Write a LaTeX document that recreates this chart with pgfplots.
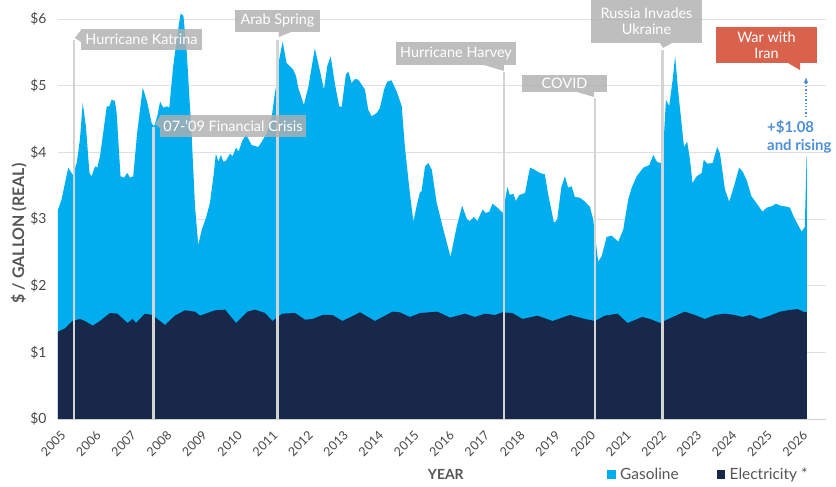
\documentclass[border=0pt]{standalone}
\usepackage{fontspec}
\setmainfont{Lato}
\usepackage{pgfplots}
\pgfplotsset{compat=1.18}
\usepackage{pgfplotstable}
\usetikzlibrary{arrows.meta}
\definecolor{gas}{RGB}{0,174,239}
\definecolor{elec}{RGB}{23,40,75}
\definecolor{evt}{RGB}{212,212,212}
\definecolor{boxg}{RGB}{176,176,176}
\definecolor{iran}{RGB}{217,98,76}
\definecolor{arrowblue}{RGB}{77,143,214}
\definecolor{tickc}{RGB}{72,72,72}
\definecolor{labc}{RGB}{85,85,85}

\pgfplotstableread{
x y
2005.00 3.14
2005.10 3.29
2005.29 3.77
2005.42 3.66
2005.53 3.84
2005.62 4.19
2005.70 4.74
2005.79 4.39
2005.89 3.69
2005.95 3.64
2006.05 3.79
2006.11 3.77
2006.19 3.94
2006.38 4.69
2006.45 4.69
2006.52 4.79
2006.61 4.77
2006.66 4.59
2006.77 3.64
2006.87 3.62
2006.96 3.69
2007.04 3.62
2007.13 3.64
2007.24 4.29
2007.40 4.97
2007.53 4.74
2007.65 4.44
2007.72 4.39
2007.81 4.54
2007.89 4.76
2007.98 4.67
2008.09 4.69
2008.15 4.67
2008.26 5.29
2008.40 5.84
2008.47 6.08
2008.55 6.05
2008.64 5.54
2008.78 4.29
2008.88 3.18
2008.97 2.61
2009.07 2.84
2009.19 3.02
2009.30 3.24
2009.40 3.64
2009.47 3.98
2009.54 3.86
2009.61 3.96
2009.68 3.86
2009.75 3.87
2009.87 3.98
2009.94 3.94
2010.04 4.07
2010.11 4.01
2010.23 4.19
2010.33 4.26
2010.48 4.11
2010.67 4.08
2010.77 4.16
2010.91 4.29
2011.05 4.53
2011.14 4.89
2011.21 5.09
2011.26 5.39
2011.36 5.66
2011.47 5.34
2011.66 5.24
2011.74 5.14
2011.80 4.97
2011.96 4.71
2012.09 4.99
2012.27 5.56
2012.42 5.21
2012.53 4.94
2012.62 5.29
2012.72 5.44
2012.84 5.02
2012.96 4.69
2013.03 4.68
2013.15 5.17
2013.22 5.21
2013.31 5.04
2013.41 5.10
2013.50 5.09
2013.69 4.94
2013.78 4.64
2013.88 4.54
2014.02 4.59
2014.11 4.66
2014.23 4.94
2014.32 5.06
2014.44 5.08
2014.59 4.91
2014.73 4.69
2014.82 4.08
2014.94 3.48
2015.06 2.96
2015.15 3.19
2015.25 3.41
2015.29 3.41
2015.39 3.79
2015.48 3.84
2015.58 3.74
2015.72 3.24
2015.91 2.84
2016.11 2.43
2016.28 2.87
2016.44 3.20
2016.58 2.99
2016.66 2.97
2016.77 3.03
2016.87 2.97
2017.02 3.14
2017.11 3.09
2017.21 3.11
2017.30 3.23
2017.46 3.16
2017.59 3.09
2017.72 3.48
2017.79 3.36
2017.89 3.38
2017.96 3.27
2018.06 3.36
2018.22 3.39
2018.36 3.77
2018.45 3.75
2018.64 3.69
2018.78 3.67
2018.87 3.39
2019.04 2.94
2019.13 2.99
2019.25 3.48
2019.35 3.64
2019.44 3.47
2019.54 3.49
2019.63 3.33
2019.77 3.32
2019.92 3.26
2020.06 3.18
2020.15 2.99
2020.29 2.36
2020.39 2.44
2020.53 2.73
2020.67 2.75
2020.86 2.66
2021.00 2.84
2021.14 3.29
2021.24 3.47
2021.38 3.64
2021.57 3.77
2021.74 3.81
2021.85 3.96
2021.95 3.86
2022.04 3.84
2022.11 3.84
2022.21 4.79
2022.30 4.69
2022.40 5.09
2022.47 5.44
2022.55 4.94
2022.65 4.44
2022.72 4.08
2022.81 4.16
2022.89 3.89
2022.96 3.54
2023.08 3.64
2023.22 3.69
2023.28 3.89
2023.38 3.83
2023.53 3.84
2023.66 4.08
2023.74 3.98
2023.88 3.44
2024.00 3.26
2024.13 3.48
2024.28 3.77
2024.38 3.71
2024.49 3.59
2024.63 3.34
2024.77 3.24
2024.94 3.11
2025.06 3.17
2025.20 3.19
2025.32 3.23
2025.45 3.20
2025.58 3.19
2025.72 3.17
2025.83 3.03
2025.92 2.94
2026.05 2.81
2026.14 2.88
2026.19 3.94
2026.20 3.94
}\gasoline

\pgfplotstableread{
x y
2005.00 1.31
2005.20 1.36
2005.41 1.47
2005.62 1.50
2005.76 1.47
2005.98 1.40
2006.19 1.47
2006.47 1.59
2006.68 1.58
2006.97 1.44
2007.11 1.50
2007.21 1.44
2007.46 1.58
2007.67 1.56
2008.03 1.41
2008.31 1.55
2008.59 1.63
2008.88 1.61
2009.02 1.55
2009.44 1.63
2009.73 1.64
2010.04 1.44
2010.36 1.61
2010.58 1.64
2010.86 1.59
2011.07 1.47
2011.35 1.58
2011.71 1.59
2011.99 1.49
2012.20 1.50
2012.49 1.56
2012.77 1.56
2013.05 1.47
2013.55 1.60
2013.97 1.47
2014.47 1.61
2014.68 1.60
2014.96 1.53
2015.25 1.59
2015.74 1.61
2016.10 1.52
2016.52 1.58
2016.80 1.53
2017.09 1.58
2017.37 1.56
2017.58 1.60
2017.86 1.59
2018.15 1.50
2018.57 1.55
2019.00 1.47
2019.49 1.56
2019.92 1.50
2020.20 1.47
2020.48 1.55
2020.84 1.58
2021.12 1.44
2021.54 1.53
2021.76 1.50
2022.04 1.44
2022.32 1.51
2022.74 1.61
2023.03 1.56
2023.31 1.50
2023.60 1.56
2023.88 1.58
2024.16 1.56
2024.37 1.53
2024.59 1.56
2024.87 1.50
2025.15 1.55
2025.44 1.61
2025.65 1.63
2025.93 1.65
2026.14 1.60
2026.20 1.61
}\electricity

\begin{document}
\begin{tikzpicture}
\useasboundingbox (-58bp,-68bp) rectangle (778bp,419bp);
\begin{axis}[
  scale only axis, width=768bp, height=408bp,
  xmin=2005, xmax=2026.74, ymin=0, ymax=6.12,
  axis line style={draw=none},
  clip=false,
  xtick={2005,...,2026}, xtick pos=bottom, ytick pos=left,
  ytick={0,...,6}, yticklabels={\$0,\$1,\$2,\$3,\$4,\$5,\$6},
  tick align=inside, major tick length=4bp,
  xtick style={draw=evt, line width=0.8bp},
  ytick style={draw=none},
  ymajorgrids, grid style={draw=black!12, line width=0.8bp},
  /pgf/number format/assume math mode=true,
  /pgf/number format/1000 sep={},
  x tick label style={rotate=45, anchor=east, xshift=-3bp, yshift=-14bp, font=\fontsize{12.5}{12.5}\selectfont, text=tickc},
  y tick label style={font=\fontsize{14}{14}\selectfont, text=tickc, xshift=-8bp},
  xlabel={YEAR},
  xlabel style={at={(0.505,-0.137)}, anchor=center, font=\bfseries\fontsize{14}{14}\selectfont, text=labc},
  ylabel={\$ / GALLON (REAL)},
  ylabel style={at={(-0.051,0.455)}, anchor=center, font=\bfseries\fontsize{16}{16}\selectfont, text=labc},
  legend columns=2,
  legend style={at={(0.711,-0.135)}, anchor=west, draw=none, fill=none,
    font=\fontsize{15.5}{15.5}\selectfont, text=labc,
    /tikz/every even column/.append style={column sep=36bp}},
  legend image code/.code={\fill[#1] (0bp,-4.5bp) rectangle (8.5bp,4.5bp); \path (11bp,0bp);},
]
\addplot[fill=gas, draw=none] table {\gasoline} \closedcycle;
\addlegendentry{Gasoline}
\addplot[fill=elec, draw=none] table {\electricity} \closedcycle;
\addlegendentry{Electricity *}
% event lines
\draw[evt, line width=2.6bp] (axis cs:2005.45,0) -- (axis cs:2005.45,5.69);
\draw[evt, line width=2.6bp] (axis cs:2007.70,0) -- (axis cs:2007.70,4.38);
\draw[evt, line width=2.6bp] (axis cs:2011.21,0) -- (axis cs:2011.21,5.69);
\draw[evt, line width=2.6bp] (axis cs:2017.62,0) -- (axis cs:2017.62,5.20);
\draw[evt, line width=2.6bp] (axis cs:2020.20,0) -- (axis cs:2020.20,4.81);
\draw[evt, line width=2.6bp] (axis cs:2022.11,0) -- (axis cs:2022.11,5.53);
\draw[black!18, line width=0.8bp] (axis cs:2005,0) -- (axis cs:2026.74,0);
\end{axis}
\begin{scope}[shift={(-58bp,419bp)}, x=1bp, y=-1bp]
\tikzset{lab/.style={text=white, font=\fontsize{14.5}{16}\selectfont, align=center}}
% Katrina
\fill[boxg, opacity=.82] (81,29) rectangle (202,50);
\fill[boxg, opacity=.82] (81,30) -- (75,38) -- (81,42) -- cycle;
\node[lab] at (141.5,39.5) {Hurricane Katrina};
% Financial crisis
\fill[boxg, opacity=.82] (160,115) rectangle (306,137);
\fill[boxg, opacity=.82] (160,116) -- (155,124) -- (160,128) -- cycle;
\node[lab] at (233,126) {07-’09 Financial Crisis};
% Arab spring
\fill[boxg, opacity=.82] (235,10) rectangle (320,32);
\fill[boxg, opacity=.82] (279,32) -- (279,37) -- (291,32) -- cycle;
\node[lab] at (277.5,21) {Arab Spring};
% Harvey
\fill[boxg, opacity=.82] (396,42) rectangle (516,65);
\fill[boxg, opacity=.82] (484,65) -- (504,71) -- (504,65) -- cycle;
\node[lab] at (456,53.5) {Hurricane Harvey};
% COVID
\fill[boxg, opacity=.82] (522,75) rectangle (607,92);
\fill[boxg, opacity=.82] (577,92) -- (594,97) -- (594,92) -- cycle;
\node[lab] at (564.5,83.5) {COVID};
% Russia
\fill[boxg, opacity=.82] (591,0) rectangle (702,43);
\fill[boxg, opacity=.82] (660,43) -- (663,48) -- (672,43) -- cycle;
\node[lab] at (646.5,21.5) {Russia Invades\\Ukraine};
% Iran
\fill[iran] (716,27) rectangle (817,63);
\fill[iran] (788,63) -- (800,70) -- (800,63) -- cycle;
\node[lab] at (766.5,45) {War with\\Iran};
% arrow
\draw[arrowblue, line width=1.3bp, dotted, -{Latex[length=6bp,width=5bp]}] (806,117) -- (806,77);
\node[anchor=north west, text=arrowblue, font=\bfseries\fontsize{15}{18}\selectfont, align=left, inner sep=0pt] at (767,120) {+\$1.08\\and rising};
\end{scope}
\end{tikzpicture}
\end{document}
